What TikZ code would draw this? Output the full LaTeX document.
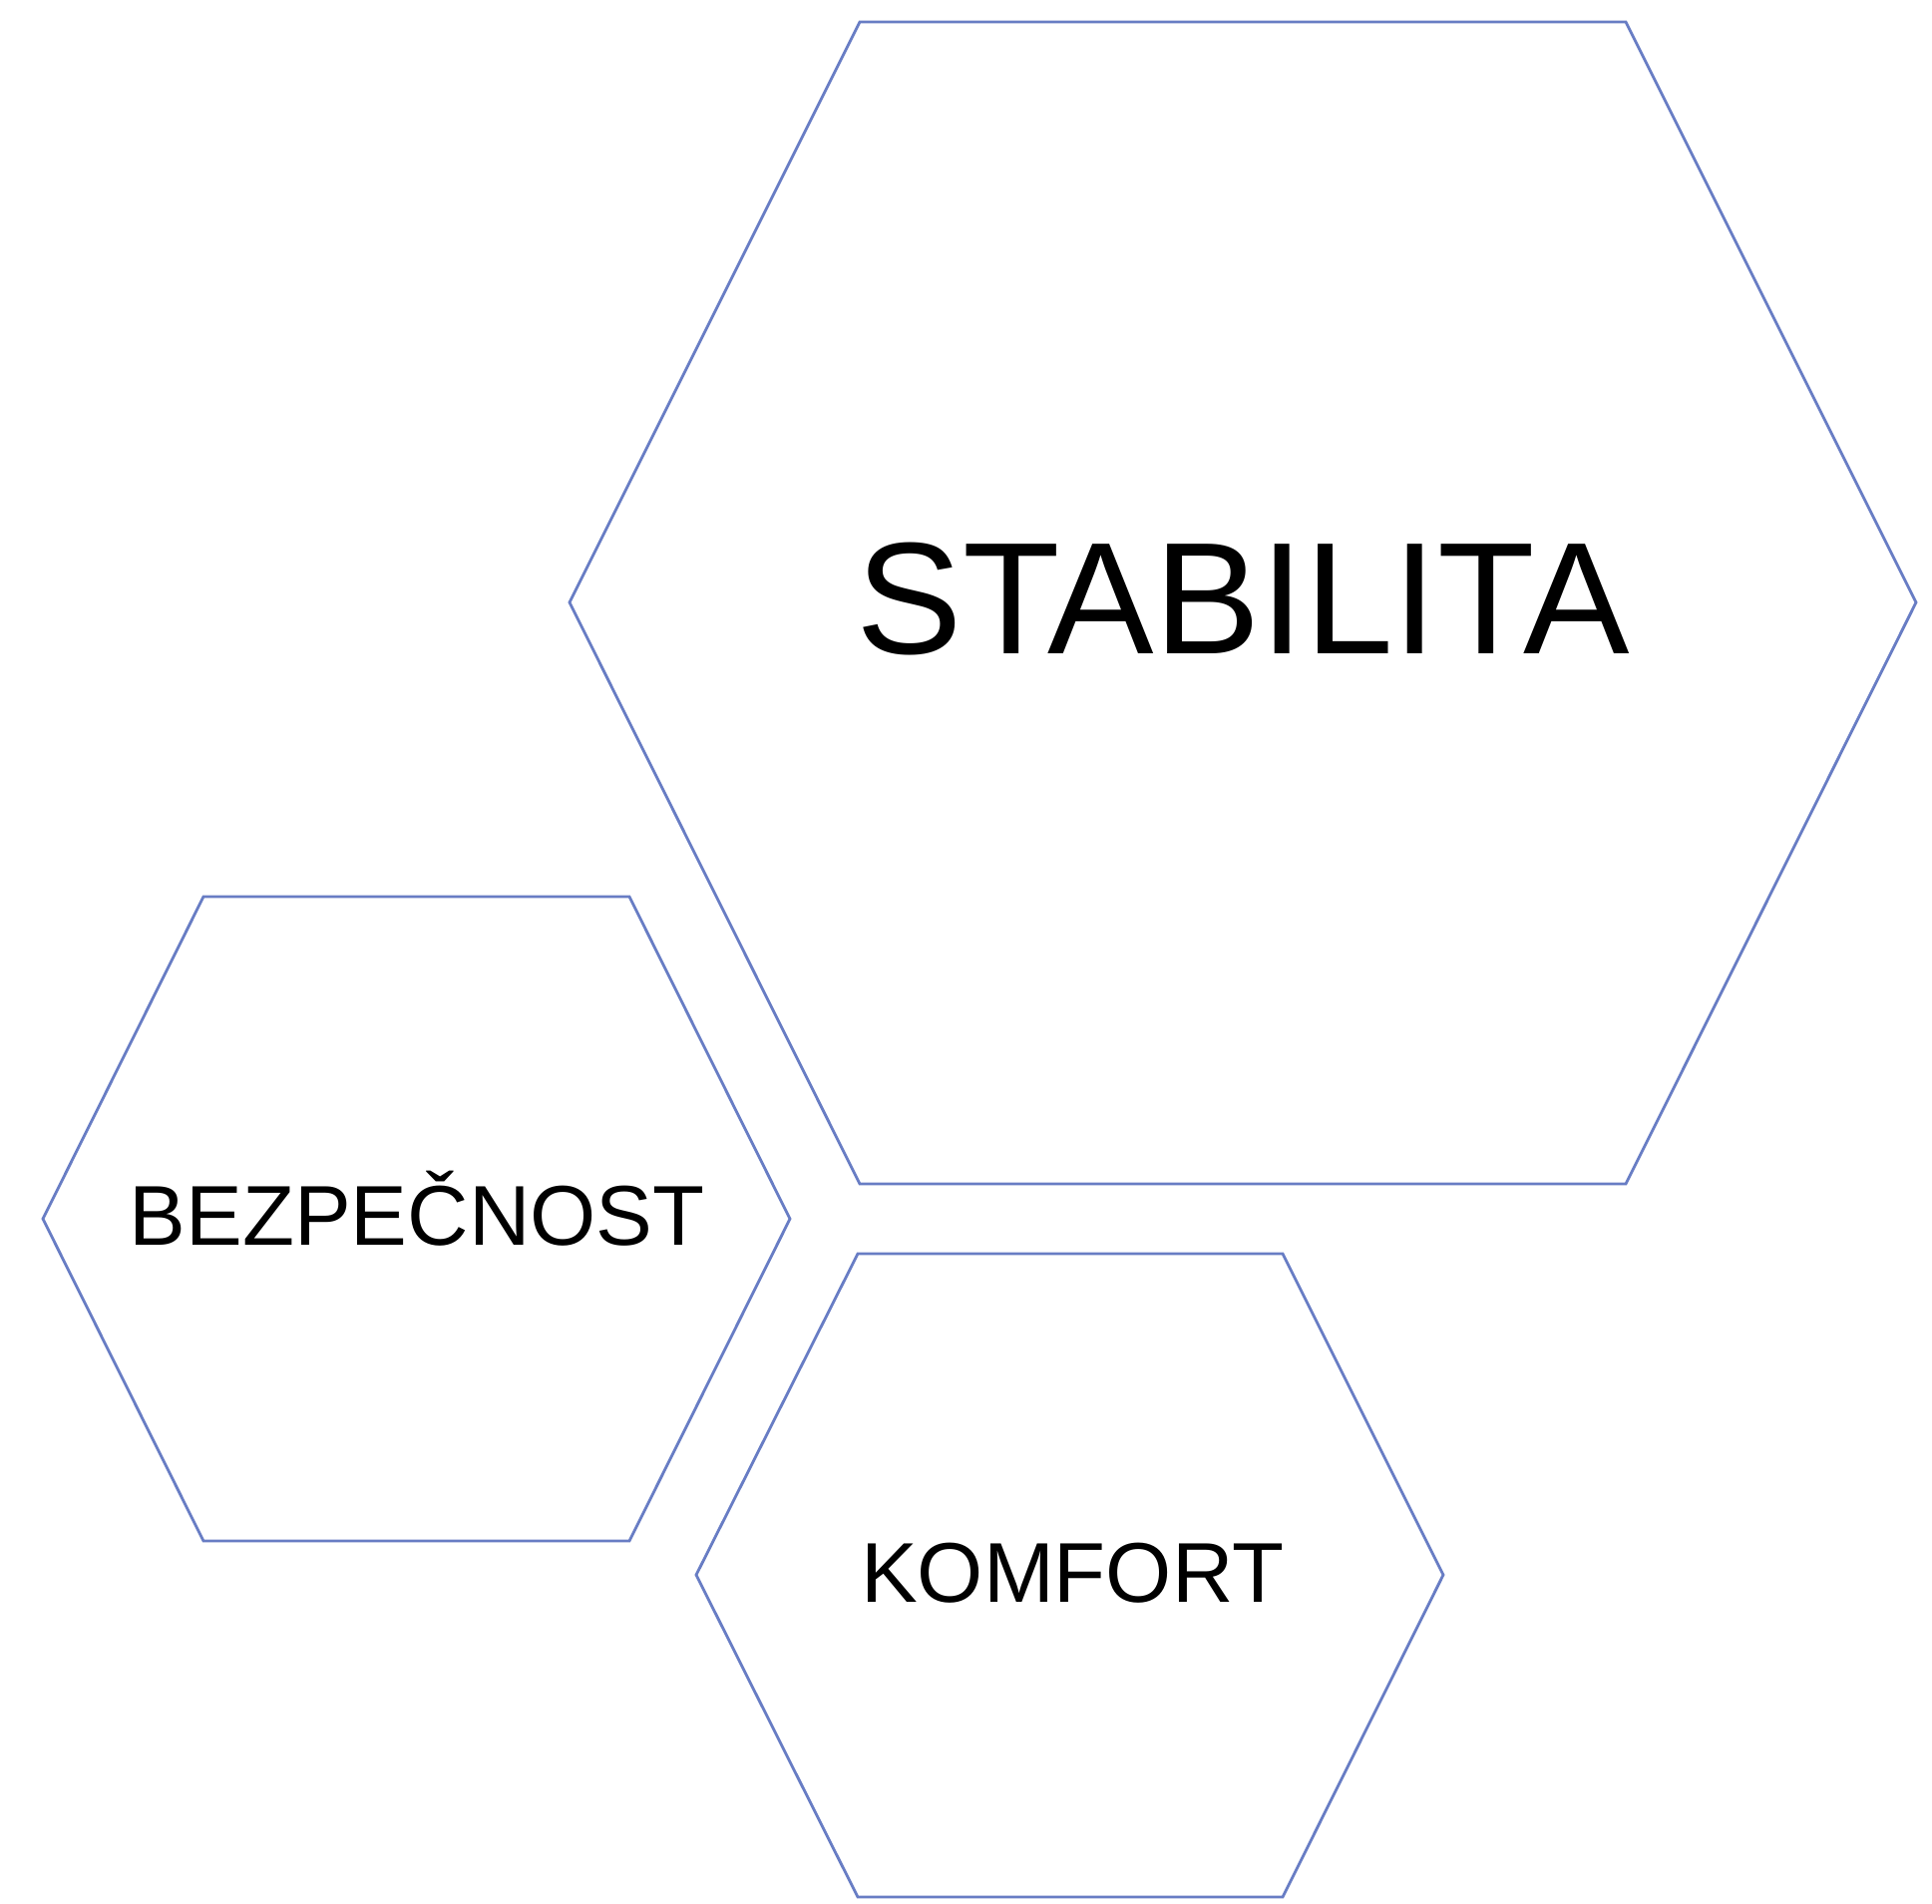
\documentclass[tikz,border=0pt]{standalone}
\usepackage{fontspec}
\setmainfont{Liberation Sans}
\usepackage{tikz}
\usetikzlibrary{calc}
\definecolor{hexline}{RGB}{104,125,196}

\begin{document}
\begin{tikzpicture}[
        x=0.01cm, y=-0.01cm,
        hex/.style={draw=hexline, line width=0.8pt, line join=miter},
        word/.style={anchor=base, inner sep=0pt}
    ]
        \useasboundingbox (0,0) rectangle (1937,1908);
        % big one, top right
        \draw[hex] (862,22) -- (1630,22) -- (1921,604) -- (1630,1187) -- (862,1187) -- (571,604) -- cycle;
        % small ones
        \draw[hex] (204,899) -- (631,899) -- (792,1222) -- (631,1545) -- (204,1545) -- (43,1222) -- cycle;
        \draw[hex] (860,1257) -- (1286,1257) -- (1447,1579) -- (1286,1902) -- (860,1902) -- (698,1579) -- cycle;

        \node[word, font=\fontsize{45.4}{52}\selectfont] (stab) at (1246,655) {STABILITA};
        \node[word, font=\fontsize{24.2}{28}\selectfont] (bezp) at (418,1248) {BEZPEČNOST};
        \node[word, font=\fontsize{24.2}{28}\selectfont] (komf) at (1075,1606) {KOMFORT};
    \end{tikzpicture}
\end{document}
